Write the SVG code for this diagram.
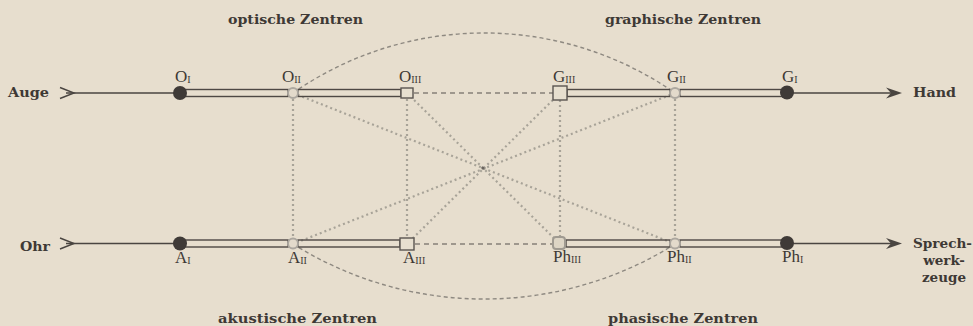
<svg xmlns="http://www.w3.org/2000/svg" width="973" height="326" viewBox="0 0 973 326">
<style>
.bg{fill:#e7dece}
.lbl{font-family:"DejaVu Serif","Liberation Serif",serif;font-weight:bold;font-size:13.5px;fill:#3e3935}
.nl{font-family:"Liberation Serif","DejaVu Serif",serif;font-size:17px;fill:#3e3935}
.sub{font-family:"Liberation Serif",serif;font-size:10px}
.rail{fill:none;stroke:#4e4844;stroke-width:1.4}
.line{fill:none;stroke:#4a4541;stroke-width:1.4}
.dash{fill:none;stroke:#57514c;stroke-width:1.2;stroke-dasharray:5 4}
.arc{fill:none;stroke:#8e8981;stroke-width:1.4;stroke-dasharray:4 3}
.dot{fill:none;stroke:#a8a398;stroke-width:2.2;stroke-dasharray:2 3}
.ring{fill:#e3dacb;stroke:#aca79f;stroke-width:2}
.sq{fill:#e7dfcf;stroke:#5a5450;stroke-width:1.4}
.sqg{fill:#ddd5c5;stroke:#9f9a91;stroke-width:2}
.solid{fill:#3f3a37}
.head{fill:#4a4541}
</style>
<rect class="bg" x="0" y="0" width="973" height="326"/>

<g id="connectors">
  <path class="arc" d="M293,93 A334,334 0 0 1 675,93"/>
  <path class="arc" d="M293,244 A359,359 0 0 0 675,244"/>
  <line class="dot" x1="293" y1="99" x2="293" y2="238"/>
  <line class="dot" x1="407" y1="99" x2="407" y2="237"/>
  <line class="dot" x1="560" y1="100" x2="560" y2="237"/>
  <line class="dot" x1="675" y1="99" x2="675" y2="238"/>
  <line class="dot" x1="293" y1="93" x2="675" y2="244"/>
  <line class="dot" x1="407" y1="93" x2="560" y2="244"/>
  <line class="dot" x1="675" y1="93" x2="293" y2="244"/>
  <line class="dot" x1="560" y1="93" x2="407" y2="244"/>
  <circle cx="483" cy="168" r="1.6" fill="#6a645e"/>
  <line class="dash" x1="414" y1="93" x2="553" y2="93"/>
  <line class="dash" x1="415" y1="244" x2="553" y2="244"/>
  <rect class="rail" x="180" y="89.5" width="108" height="7"/>
  <rect class="rail" x="298" y="89.5" width="103" height="7"/>
  <rect class="rail" x="567" y="89.5" width="103" height="7"/>
  <rect class="rail" x="680" y="89.5" width="107" height="7"/>
  <rect class="rail" x="180" y="240" width="108" height="7"/>
  <rect class="rail" x="298" y="240" width="102" height="7"/>
  <rect class="rail" x="566" y="240" width="104" height="7"/>
  <rect class="rail" x="680" y="240" width="107" height="7"/>
  <line class="line" x1="66" y1="93" x2="180" y2="93"/>
  <path class="line" d="M60,87.5 L74,93 L60,98.5" stroke-width="2"/>
  <line class="line" x1="787" y1="93" x2="896" y2="93"/>
  <path class="head" d="M902,93 L886,87.5 L891,93 L886,98.5 Z"/>
  <line class="line" x1="66" y1="243.5" x2="180" y2="243.5"/>
  <path class="line" d="M60,238 L74,243.5 L60,249" stroke-width="2"/>
  <line class="line" x1="787" y1="243.5" x2="896" y2="243.5"/>
  <path class="head" d="M902,243.5 L886,238 L891,243.5 L886,249 Z"/>
</g>

<g id="O1"><circle class="solid" cx="180" cy="93" r="7"/><text class="nl" x="175" y="82">O<tspan class="sub" dy="1">I</tspan></text></g>
<g id="O2"><circle class="ring" cx="293" cy="93" r="5"/><text class="nl" x="282" y="82">O<tspan class="sub" dy="1">II</tspan></text></g>
<g id="O3"><rect class="sq" x="401" y="88" width="12" height="10"/><text class="nl" x="399" y="82">O<tspan class="sub" dy="1">III</tspan></text></g>
<g id="G3"><rect class="sq" x="553" y="86" width="14" height="14"/><text class="nl" x="553" y="82">G<tspan class="sub" dy="1">III</tspan></text></g>
<g id="G2"><circle class="ring" cx="675" cy="93" r="5"/><text class="nl" x="667" y="82">G<tspan class="sub" dy="1">II</tspan></text></g>
<g id="G1"><circle class="solid" cx="787" cy="92.5" r="7"/><text class="nl" x="782" y="82">G<tspan class="sub" dy="1">I</tspan></text></g>

<g id="A1"><circle class="solid" cx="180" cy="243.5" r="7"/><text class="nl" x="175" y="263">A<tspan class="sub" dy="1">I</tspan></text></g>
<g id="A2"><circle class="ring" cx="293" cy="243.5" r="5"/><text class="nl" x="288" y="263">A<tspan class="sub" dy="1">II</tspan></text></g>
<g id="A3"><rect class="sq" x="400" y="238" width="14" height="12"/><text class="nl" x="403" y="263">A<tspan class="sub" dy="1">III</tspan></text></g>
<g id="Ph3"><rect class="sqg" x="553" y="237" width="12" height="12" rx="3"/><text class="nl" x="553" y="262">Ph<tspan class="sub" dy="1">III</tspan></text></g>
<g id="Ph2"><circle class="ring" cx="675" cy="243.5" r="5"/><text class="nl" x="667" y="262">Ph<tspan class="sub" dy="1">II</tspan></text></g>
<g id="Ph1"><circle class="solid" cx="787" cy="243" r="7"/><text class="nl" x="782" y="262">Ph<tspan class="sub" dy="1">I</tspan></text></g>

<g id="labels">
  <text class="lbl" x="228" y="24" textLength="135" lengthAdjust="spacingAndGlyphs">optische Zentren</text>
  <text class="lbl" x="605" y="24" textLength="156" lengthAdjust="spacingAndGlyphs">graphische Zentren</text>
  <text class="lbl" x="218" y="323" textLength="159" lengthAdjust="spacingAndGlyphs">akustische Zentren</text>
  <text class="lbl" x="608" y="323" textLength="150" lengthAdjust="spacingAndGlyphs">phasische Zentren</text>
  <text class="lbl" x="8" y="97" textLength="41" lengthAdjust="spacingAndGlyphs">Auge</text>
  <text class="lbl" x="913" y="97" textLength="43" lengthAdjust="spacingAndGlyphs">Hand</text>
  <text class="lbl" x="20" y="251" textLength="30" lengthAdjust="spacingAndGlyphs">Ohr</text>
  <text class="lbl" x="913" y="248" textLength="59" lengthAdjust="spacingAndGlyphs">Sprech-</text>
  <text class="lbl" x="944" y="265" text-anchor="middle">werk-</text>
  <text class="lbl" x="944" y="282" text-anchor="middle">zeuge</text>
</g>
</svg>
